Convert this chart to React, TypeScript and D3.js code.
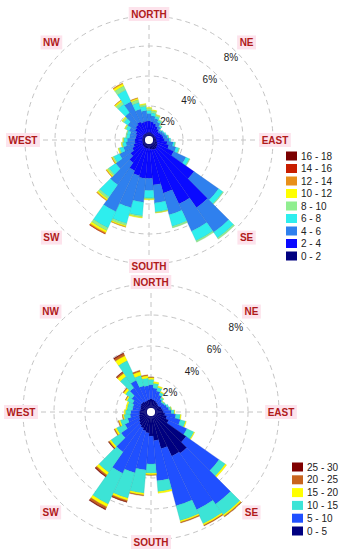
import * as d3 from 'd3';

// compass directions of the sectors (degrees)
const directions = [0, 10, 20, 30, 40, 50, 60, 70, 80, 90, 100, 110, 120, 130, 140, 150, 160, 170,
  180, 190, 200, 210, 220, 230, 240, 250, 260, 270, 280, 290, 300, 310, 320, 330, 340, 350];

// ---- upper rose: frequency (%) per speed class
const topLabels = ['0 - 2', '2 - 4', '4 - 6', '6 - 8', '8 - 10', '10 - 12', '12 - 14', '14 - 16', '16 - 18'];
const topColors = ['#000080', '#0a0aff', '#2f80ee', '#2eeeee', '#90ee90', '#ffff00', '#e8901a', '#c81e00', '#7a0000'];
const top0to2 = [0.25, 0.25, 0.22, 0.2, 0.2, 0.18, 0.18, 0.2, 0.2, 0.22, 0.25, 0.3, 0.35, 0.4, 0.45, 0.45, 0.4, 0.35,
  0.3, 0.3, 0.3, 0.3, 0.28, 0.25, 0.22, 0.2, 0.18, 0.18, 0.18, 0.18, 0.2, 0.22, 0.22, 0.22, 0.22, 0.25];
const top2to4 = [0.75, 0.7, 0.65, 0.55, 0.45, 0.35, 0.4, 0.45, 0.5, 0.55, 0.7, 0.8, 1.2, 3.0, 4.8, 4.0, 3.0, 2.4,
  2.0, 2.0, 1.9, 1.7, 1.3, 1.0, 0.75, 0.6, 0.5, 0.5, 0.45, 0.45, 0.5, 0.65, 0.75, 0.85, 0.75, 0.75];
const top4to6 = [0.5, 0.4, 0.35, 0.3, 0.2, 0.15, 0.2, 0.2, 0.25, 0.3, 0.4, 0.5, 0.9, 2.0, 2.0, 2.0, 1.5, 1.2,
  0.8, 1.6, 2.2, 3.0, 1.8, 1.2, 0.95, 0.7, 0.6, 0.5, 0.42, 0.42, 0.5, 0.6, 1.0, 1.5, 0.9, 0.7];
const top6to8 = [0.2, 0.2, 0.15, 0.12, 0.08, 0.06, 0.06, 0.08, 0.08, 0.1, 0.12, 0.2, 0.25, 0.35, 0.45, 0.7, 0.8, 0.6,
  0.5, 0.9, 1.1, 1.2, 1.0, 0.55, 0.4, 0.25, 0.22, 0.22, 0.2, 0.2, 0.22, 0.3, 0.7, 0.85, 0.45, 0.3];
const top8to10 = [0.15, 0.15, 0.1, 0.08, 0.05, 0.02, 0, 0, 0.02, 0, 0.03, 0.05, 0.05, 0.05, 0.1, 0.1, 0.1, 0.05,
  0.08, 0.1, 0.15, 0.2, 0.15, 0.12, 0.1, 0.08, 0.06, 0.06, 0.05, 0.06, 0.08, 0.12, 0.2, 0.3, 0.2, 0.12];
const top10to12 = [0.05, 0.05, 0.03, 0, 0, 0, 0, 0, 0, 0, 0, 0, 0, 0, 0, 0, 0, 0.02,
  0.04, 0.05, 0.08, 0.15, 0.1, 0.08, 0.05, 0.04, 0.03, 0.02, 0, 0, 0.03, 0.05, 0.1, 0.15, 0.1, 0.05];
const top12to14 = [0, 0, 0, 0, 0, 0, 0, 0, 0, 0, 0, 0, 0, 0, 0, 0, 0, 0,
  0, 0, 0.02, 0.08, 0.05, 0.03, 0.02, 0, 0, 0, 0, 0, 0, 0, 0.02, 0.05, 0.03, 0];
const top14to16 = [0, 0, 0, 0, 0, 0, 0, 0, 0, 0, 0, 0, 0, 0, 0, 0, 0, 0,
  0, 0, 0, 0.02, 0, 0, 0, 0, 0, 0, 0, 0, 0, 0, 0, 0, 0, 0];
const top16to18 = [0, 0, 0, 0, 0, 0, 0, 0, 0, 0, 0, 0, 0, 0, 0, 0, 0, 0,
  0, 0, 0, 0, 0, 0, 0, 0, 0, 0, 0, 0, 0, 0, 0, 0, 0, 0];

// ---- lower rose
const botLabels = ['0 - 5', '5 - 10', '10 - 15', '15 - 20', '20 - 25', '25 - 30'];
const botColors = ['#000080', '#2050ff', '#3ce4d6', '#ffff00', '#c8641e', '#800000'];
const bot0to5 = [0.6, 0.55, 0.5, 0.45, 0.4, 0.35, 0.4, 0.45, 0.5, 0.55, 0.65, 0.8, 1.0, 2.5, 3.0, 2.9, 2.2, 1.6,
  1.3, 1.1, 1.0, 0.9, 0.8, 0.7, 0.6, 0.55, 0.5, 0.5, 0.45, 0.45, 0.5, 0.55, 0.55, 0.5, 0.5, 0.55];
const bot5to10 = [0.9, 0.75, 0.65, 0.5, 0.35, 0.3, 0.3, 0.35, 0.4, 0.5, 0.7, 0.9, 1.3, 2.6, 4.0, 3.8, 3.8, 2.6,
  1.8, 2.4, 2.8, 3.2, 2.1, 1.4, 1.0, 0.75, 0.6, 0.55, 0.5, 0.5, 0.55, 0.7, 1.1, 1.5, 1.0, 0.9];
const bot10to15 = [0.35, 0.3, 0.25, 0.2, 0.15, 0.1, 0.1, 0.12, 0.15, 0.2, 0.3, 0.35, 0.5, 0.5, 0.85, 1.0, 1.0, 0.7,
  0.6, 1.5, 1.7, 2.2, 1.6, 0.8, 0.6, 0.5, 0.4, 0.35, 0.35, 0.35, 0.4, 0.5, 0.9, 1.4, 0.7, 0.5];
const bot15to20 = [0.12, 0.1, 0.08, 0.05, 0.03, 0.02, 0, 0, 0.02, 0.03, 0.05, 0.05, 0.05, 0.1, 0.1, 0.1, 0.1, 0.1,
  0.1, 0.12, 0.15, 0.2, 0.2, 0.12, 0.12, 0.1, 0.08, 0.07, 0.08, 0.08, 0.1, 0.15, 0.25, 0.35, 0.25, 0.15];
const bot20to25 = [0.03, 0, 0, 0, 0, 0, 0, 0, 0, 0, 0, 0, 0, 0, 0.05, 0.05, 0.05, 0,
  0.03, 0.05, 0.1, 0.15, 0.1, 0.06, 0.05, 0.04, 0.02, 0, 0, 0, 0.02, 0.05, 0.1, 0.15, 0.08, 0.05];
const bot25to30 = [0, 0, 0, 0, 0, 0, 0, 0, 0, 0, 0, 0, 0, 0, 0, 0, 0, 0,
  0, 0, 0.02, 0.05, 0.05, 0.02, 0, 0, 0, 0, 0, 0, 0, 0, 0.02, 0.05, 0, 0];

const ringTicks = [2, 4, 6, 8];
const compass = [
  { name: 'NORTH', deg: 0 }, { name: 'NE', deg: 45 }, { name: 'EAST', deg: 90 }, { name: 'SE', deg: 135 },
  { name: 'SOUTH', deg: 180 }, { name: 'SW', deg: 225 }, { name: 'WEST', deg: 270 }, { name: 'NW', deg: 315 },
];

const FONT = '"Liberation Sans", Arial, sans-serif';

let ctx: CanvasRenderingContext2D | null = null;
function textWidth(s: string, font: string) {
  if (!ctx) ctx = document.createElement('canvas').getContext('2d');
  if (!ctx) return s.length * 6;
  ctx.font = font;
  return ctx.measureText(s).width;
}

type RoseProps = {
  cx: number; cy: number; outer: number;
  series: number[][]; colors: string[]; labels: string[];
  legendX: number; legendY: number; legendStep: number;
};

function Rose({ cx, cy, outer, series, colors, labels, legendX, legendY, legendStep }: RoseProps) {
  const r = d3.scaleLinear().domain([0, 8]).range([4, outer]);
  const rad = (deg: number) => (deg * Math.PI) / 180;
  const arcGen = d3.arc<any>();

  // stack the classes outward for every direction
  const stacked = directions.map((dir, i) => {
    let acc = 0;
    return series.map((s, k) => {
      const y0 = acc;
      acc += s[i];
      return { dir, k, y0, y1: acc };
    }).filter((d) => d.y1 > d.y0);
  });

  return (
    <g transform={`translate(${cx},${cy})`}>
      {/* grid */}
      {ringTicks.map((t) => (
        <circle key={t} r={r(t)} fill="none" stroke="#c4c4c4" strokeWidth={1} strokeDasharray="5,4" />
      ))}
      <line x1={-outer} x2={outer} y1={0} y2={0} stroke="#c4c4c4" strokeDasharray="5,4" />
      <line y1={-outer} y2={outer} x1={0} x2={0} stroke="#c4c4c4" strokeDasharray="5,4" />

      {/* bars */}
      {stacked.map((segs, i) => (
        <g key={i}>
          {segs.map((d) => (
            <path
              key={d.k}
              d={arcGen({
                innerRadius: r(d.y0),
                outerRadius: r(d.y1),
                startAngle: rad(d.dir - 5),
                endAngle: rad(d.dir + 5),
              }) || ''}
              fill={colors[d.k]}
              stroke={d3.color(colors[d.k])!.darker(0.6).formatHex()}
              strokeWidth={0.3}
            />
          ))}
        </g>
      ))}

      {/* ring labels */}
      {ringTicks.map((t) => {
        const rr = r(t) - 8;
        return (
          <text key={t} x={rr * Math.sin(rad(45))} y={-rr * Math.cos(rad(45))} fontSize={10} fontFamily={FONT}
            fill="#222" textAnchor="middle" dominantBaseline="central">{t}%</text>
        );
      })}

      <circle r={4} fill="#fff" />

      {/* compass labels */}
      {compass.map((c) => {
        const rr = c.deg % 90 === 0 ? outer + 2 : outer + 14;
        const x = rr * Math.sin(rad(c.deg));
        const y = -rr * Math.cos(rad(c.deg));
        const w = textWidth(c.name, `bold 10px ${FONT}`) + 5;
        return (
          <g key={c.name} transform={`translate(${x},${y})`}>
            <rect x={-w / 2} y={-7} width={w} height={14} fill="#fde3ec" />
            <text fontSize={10} fontWeight="bold" fontFamily={FONT} fill="#b01a1a" textAnchor="middle"
              dominantBaseline="central">{c.name}</text>
          </g>
        );
      })}

      {/* legend */}
      <g transform={`translate(${legendX - cx},${legendY - cy})`}>
        {labels.slice().reverse().map((lab, j) => (
          <g key={lab} transform={`translate(0,${j * legendStep})`}>
            <rect x={0} y={-4.5} width={11} height={9} fill={colors[labels.length - 1 - j]} />
            <text x={15} y={0} fontSize={10} fontFamily={FONT} fill="#222" dominantBaseline="central">{lab}</text>
          </g>
        ))}
      </g>
    </g>
  );
}

export default function App() {
  const topSeries = [top0to2, top2to4, top4to6, top6to8, top8to10, top10to12, top12to14, top14to16, top16to18];
  const botSeries = [bot0to5, bot5to10, bot10to15, bot15to20, bot20to25, bot25to30];
  return (
    <svg width={342} height={550} style={{ position: 'absolute', left: 0, top: 0, background: '#fff' }}>
      <Rose cx={149} cy={140} outer={124} series={topSeries} colors={topColors} labels={topLabels}
        legendX={286} legendY={156} legendStep={12.5} />
      <Rose cx={151} cy={412} outer={128} series={botSeries} colors={botColors} labels={botLabels}
        legendX={292} legendY={467} legendStep={12.8} />
    </svg>
  );
}
